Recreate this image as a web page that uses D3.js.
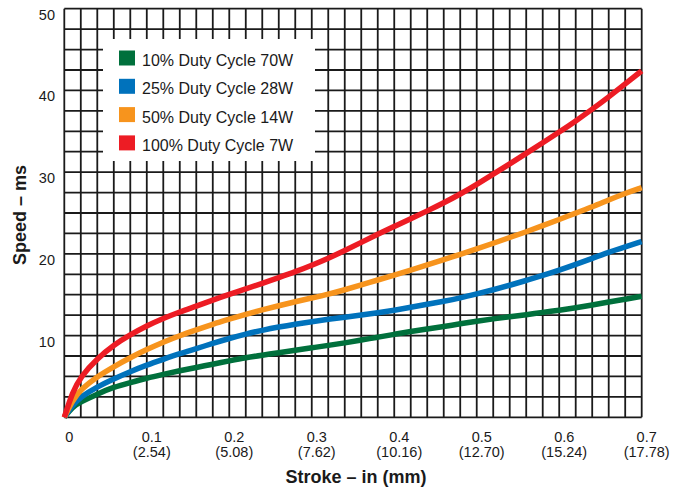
<!DOCTYPE html>
<html>
<head>
<meta charset="utf-8">
<script src="https://cdn.jsdelivr.net/npm/d3@7"></script>
<style>
  body { margin: 0; background: #fff; }
  svg { display: block; font-family: 'Liberation Sans', Arial, Helvetica, sans-serif; }
</style>
</head>
<body>
<div class="canvas"></div>
<script>
// stroke positions (in) the curves were read at
const stroke = [0, 0.01, 0.02, 0.04, 0.06, 0.08, 0.10, 0.12, 0.14, 0.16, 0.18, 0.20, 0.22, 0.24, 0.26, 0.28, 0.30, 0.32, 0.34, 0.36, 0.38, 0.40, 0.42, 0.44, 0.46, 0.48, 0.50, 0.52, 0.54, 0.56, 0.58, 0.60, 0.62, 0.64, 0.66, 0.68, 0.70];

// speed (ms) for each duty cycle
const duty10 = [0, 1.3, 1.9, 2.85, 3.7, 4.25, 4.8, 5.25, 5.7, 6.1, 6.5, 6.9, 7.3, 7.6, 7.9, 8.2, 8.5, 8.8, 9.1, 9.45, 9.8, 10.15, 10.5, 10.8, 11.1, 11.45, 11.75, 12.05, 12.3, 12.55, 12.85, 13.1, 13.4, 13.75, 14.1, 14.45, 14.8];
const duty25 = [0, 1.5, 2.5, 3.75, 4.7, 5.6, 6.4, 7.1, 7.8, 8.4, 9.05, 9.65, 10.2, 10.65, 11.05, 11.4, 11.7, 12.0, 12.25, 12.5, 12.8, 13.1, 13.45, 13.85, 14.2, 14.6, 15.1, 15.6, 16.15, 16.75, 17.35, 18.0, 18.7, 19.45, 20.2, 20.85, 21.5];
const duty50 = [0, 2.1, 3.4, 5.0, 6.2, 7.3, 8.3, 9.2, 10.0, 10.7, 11.4, 12.0, 12.6, 13.15, 13.65, 14.15, 14.6, 15.05, 15.6, 16.2, 16.8, 17.4, 18.0, 18.65, 19.3, 19.95, 20.6, 21.3, 22.0, 22.7, 23.45, 24.2, 25.0, 25.75, 26.6, 27.4, 28.1];
const duty100 = [0, 3.1, 5.0, 7.2, 8.85, 10.1, 11.2, 12.1, 12.9, 13.6, 14.35, 15.05, 15.7, 16.4, 17.1, 17.8, 18.6, 19.45, 20.4, 21.4, 22.4, 23.35, 24.3, 25.25, 26.25, 27.3, 28.5, 29.75, 31.0, 32.3, 33.6, 34.9, 36.25, 37.7, 39.2, 40.8, 42.4];

const seriesNames = ['10% Duty Cycle 70W', '25% Duty Cycle 28W', '50% Duty Cycle 14W', '100% Duty Cycle 7W'];
const seriesColors = ['#00703c', '#0072bc', '#f7941d', '#ed1c24'];

// tick labels
const xTicks = [0, 0.1, 0.2, 0.3, 0.4, 0.5, 0.6, 0.7];
const xTickMm = ['', '(2.54)', '(5.08)', '(7.62)', '(10.16)', '(12.70)', '(15.24)', '(17.78)'];
const yTicks = [10, 20, 30, 40, 50];

const dims = { width: 685, height: 489 };
const plot = { left: 64.3, right: 641.7, top: 8.7, bottom: 417.3 };

const svg = d3.select('.canvas')
    .append('svg')
    .attr('width', dims.width)
    .attr('height', dims.height);

const x = d3.scaleLinear().domain([0, 0.7]).range([plot.left, plot.right]);
const y = d3.scaleLinear().domain([0, 50]).range([plot.bottom, plot.top]);

// grid: every 0.02 in and every 2.5 ms
const grid = svg.append('g').attr('stroke', '#1a1a1a').attr('stroke-width', 1.8);

grid.selectAll('.vline')
    .data(d3.range(0, 36).map(i => i * 0.02))
    .enter().append('line')
    .attr('x1', d => x(d)).attr('x2', d => x(d))
    .attr('y1', plot.top).attr('y2', plot.bottom);

grid.selectAll('.hline')
    .data(d3.range(0, 21).map(i => i * 2.5))
    .enter().append('line')
    .attr('x1', plot.left).attr('x2', plot.right)
    .attr('y1', d => y(d)).attr('y2', d => y(d));

// legend sits on a white box cut out of the grid
const legend = svg.append('g');
legend.append('rect')
    .attr('x', 103).attr('y', 39)
    .attr('width', 212).attr('height', 122)
    .attr('fill', '#fff');

const items = legend.selectAll('.item')
    .data(seriesNames)
    .enter().append('g')
    .attr('transform', (d, i) => `translate(119, ${50.5 + i * 28.3})`);

items.append('rect')
    .attr('width', 16).attr('height', 15)
    .attr('fill', (d, i) => seriesColors[i]);

items.append('text')
    .attr('x', 23).attr('y', 15.5)
    .attr('font-size', 16)
    .attr('fill', '#1a1a1a')
    .text(d => d);

// curves, smoothed through the read points
const line = d3.line()
    .x(d => x(d[0]))
    .y(d => y(d[1]))
    .curve(d3.curveBasis);

const series = [duty10, duty25, duty50, duty100];

svg.append('g').selectAll('.curve')
    .data(series)
    .enter().append('path')
    .attr('fill', 'none')
    .attr('stroke', (d, i) => seriesColors[i])
    .attr('stroke-width', 5.5)
    .attr('d', d => line(stroke.map((s, i) => [s, d[i]])));

// y tick labels
svg.append('g').selectAll('text')
    .data(yTicks)
    .enter().append('text')
    .attr('x', 55)
    .attr('y', d => y(d) + 11)
    .attr('text-anchor', 'end')
    .attr('font-size', 14.5)
    .attr('fill', '#1a1a1a')
    .text(d => d);

// x tick labels, inch over mm
const xLab = svg.append('g').selectAll('g')
    .data(xTicks)
    .enter().append('g')
    .attr('transform', d => `translate(${x(d) + 5}, 0)`);

xLab.append('text')
    .attr('y', 441.5)
    .attr('text-anchor', 'middle')
    .attr('font-size', 14.5)
    .attr('fill', '#1a1a1a')
    .text(d => d);

xLab.append('text')
    .attr('y', 456.5)
    .attr('text-anchor', 'middle')
    .attr('font-size', 14.5)
    .attr('fill', '#1a1a1a')
    .text((d, i) => xTickMm[i]);

// axis titles
svg.append('text')
    .attr('x', 356).attr('y', 483)
    .attr('text-anchor', 'middle')
    .attr('font-size', 18).attr('font-weight', 'bold')
    .attr('fill', '#1a1a1a')
    .text('Stroke – in (mm)');

svg.append('text')
    .attr('transform', 'translate(26, 215) rotate(-90)')
    .attr('text-anchor', 'middle')
    .attr('font-size', 18).attr('font-weight', 'bold')
    .attr('fill', '#1a1a1a')
    .text('Speed – ms');
</script>
</body>
</html>
